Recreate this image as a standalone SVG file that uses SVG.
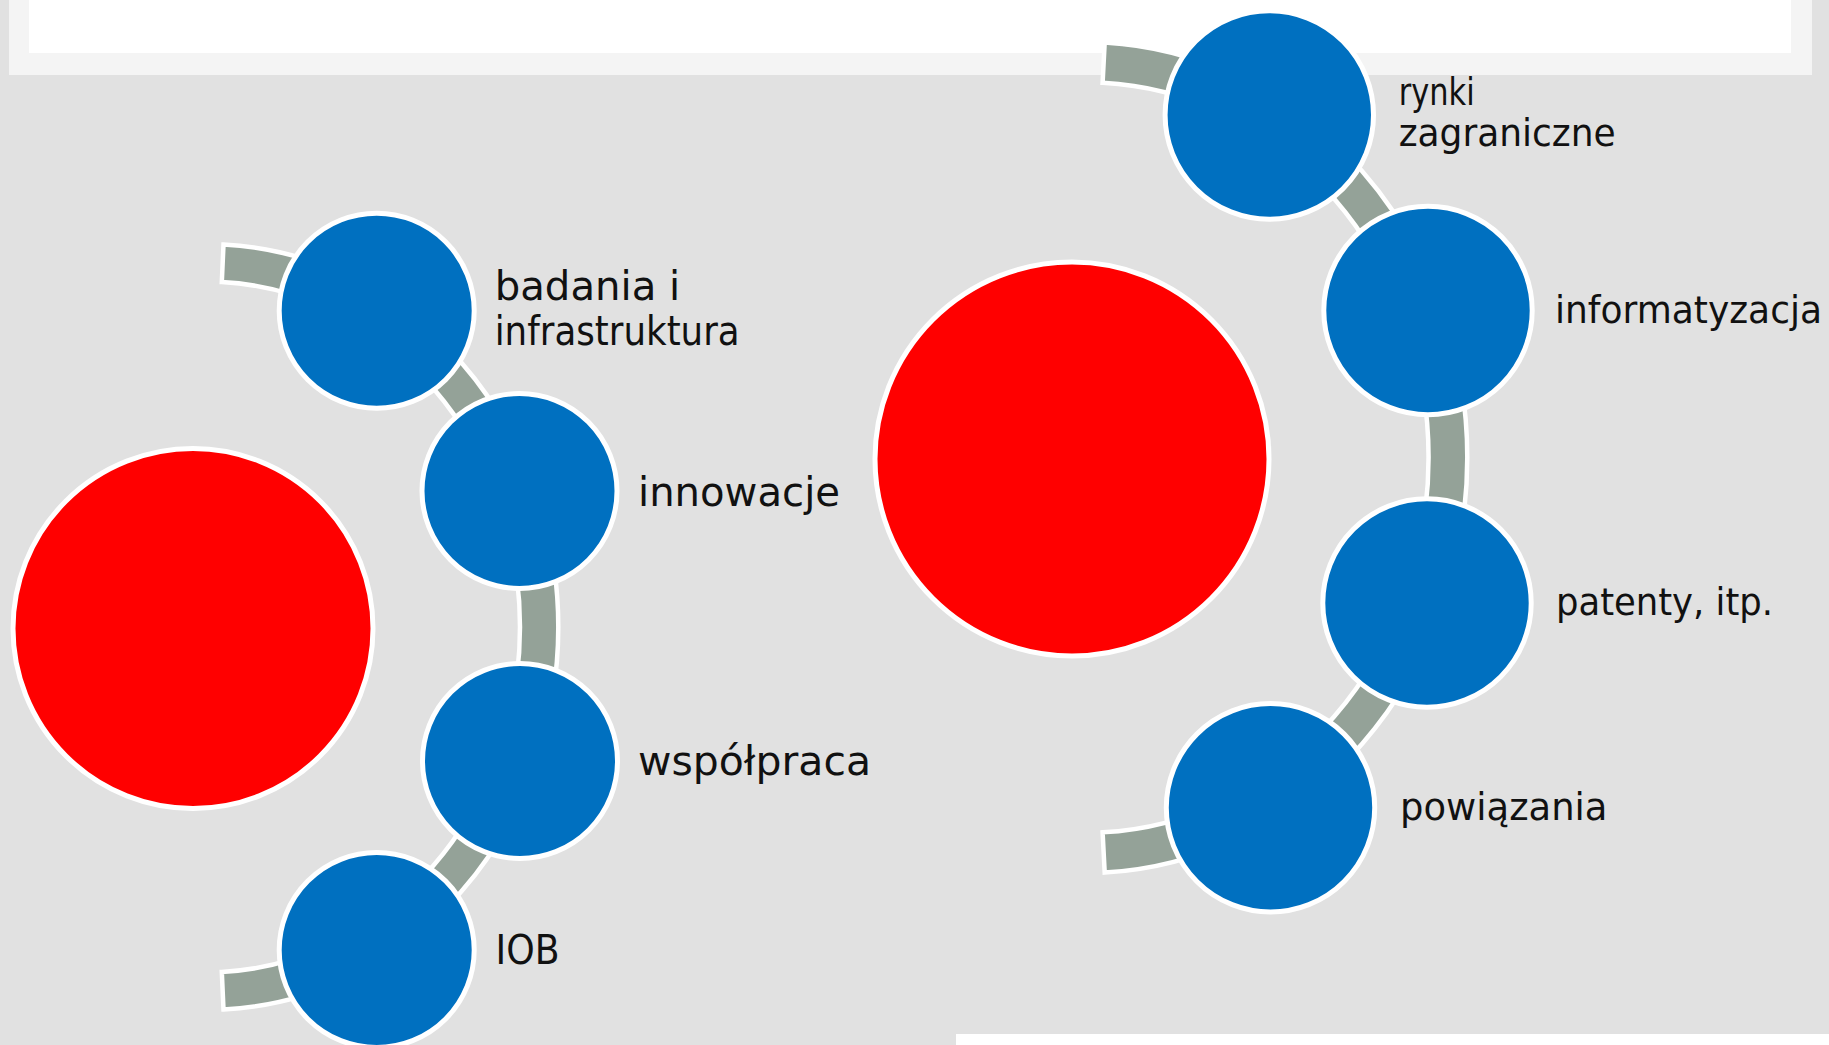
<svg xmlns="http://www.w3.org/2000/svg" width="1829" height="1045" viewBox="0 0 1829 1045">
  <style>
    .band { fill: #94A298; stroke: #FFFFFF; stroke-width: 4.5; stroke-linejoin: miter; }
    .big { fill: #FF0000; stroke: #FFFFFF; stroke-width: 5; }
    .node { fill: #0070C0; stroke: #FFFFFF; stroke-width: 5; }
    .lbl { font-family: "DejaVu Sans", "Liberation Sans", sans-serif; fill: #111111; }
    .l { font-size: 40px; }
    .r { font-size: 37px; }
  </style>
  <rect x="0" y="0" width="1829" height="1045" fill="#E1E1E1"/>
  <g id="banner">
    <rect x="9" y="0" width="1803" height="75" fill="#F4F4F4"/>
    <rect x="29" y="0" width="1762" height="53" fill="#FFFFFF"/>
  </g>
  <rect id="footer" x="956" y="1034" width="873" height="11" fill="#FFFFFF"/>

  <g id="connectors">
    <path class="band" d="M 223.5 244.6 A 349.75 382.75 0 0 1 223.5 1009.4 L 221.8 971.9 A 312.25 345.25 0 0 0 221.8 282.1 Z"/>
    <path class="band" d="M 1104.7 42.4 A 382.25 415.65 0 0 1 1104.7 872.6 L 1102.6 832.35 A 341.75 375.15 0 0 0 1102.6 82.85 Z"/>
  </g>

  <g id="center-left"><circle class="big" cx="193" cy="628.5" r="180"/></g>
  <g id="center-right"><circle class="big" cx="1072" cy="459" r="197"/></g>

  <g id="node-badania">
    <circle class="node" cx="376.7" cy="310.7" r="97.5"/>
    <text class="lbl l" x="494.7" y="300" textLength="185.6" lengthAdjust="spacingAndGlyphs">badania i</text>
    <text class="lbl l" x="494.7" y="344.5" textLength="245" lengthAdjust="spacingAndGlyphs">infrastruktura</text>
  </g>
  <g id="node-innowacje">
    <circle class="node" cx="519.5" cy="491" r="97.5"/>
    <text class="lbl l" x="638" y="505.5" textLength="202" lengthAdjust="spacingAndGlyphs">innowacje</text>
  </g>
  <g id="node-wspolpraca">
    <circle class="node" cx="520" cy="761" r="97.5"/>
    <text class="lbl l" x="638" y="775" textLength="233" lengthAdjust="spacingAndGlyphs">współpraca</text>
  </g>
  <g id="node-iob">
    <circle class="node" cx="376.7" cy="950" r="97.5"/>
    <text class="lbl l" x="495.6" y="964.4" textLength="64" lengthAdjust="spacingAndGlyphs">IOB</text>
  </g>

  <g id="node-rynki">
    <circle class="node" cx="1269.3" cy="115" r="104.2"/>
    <text class="lbl r" x="1398.7" y="105" textLength="76" lengthAdjust="spacingAndGlyphs">rynki</text>
    <text class="lbl r" x="1398.7" y="145.7" textLength="217" lengthAdjust="spacingAndGlyphs">zagraniczne</text>
  </g>
  <g id="node-informatyzacja">
    <circle class="node" cx="1428" cy="310.5" r="104.2"/>
    <text class="lbl r" x="1555" y="323" textLength="267" lengthAdjust="spacingAndGlyphs">informatyzacja</text>
  </g>
  <g id="node-patenty">
    <circle class="node" cx="1427" cy="603" r="104.2"/>
    <text class="lbl r" x="1556" y="615" textLength="217" lengthAdjust="spacingAndGlyphs">patenty, itp.</text>
  </g>
  <g id="node-powiazania">
    <circle class="node" cx="1270.5" cy="807.8" r="104.2"/>
    <text class="lbl r" x="1400" y="820" textLength="207.5" lengthAdjust="spacingAndGlyphs">powiązania</text>
  </g>
</svg>
